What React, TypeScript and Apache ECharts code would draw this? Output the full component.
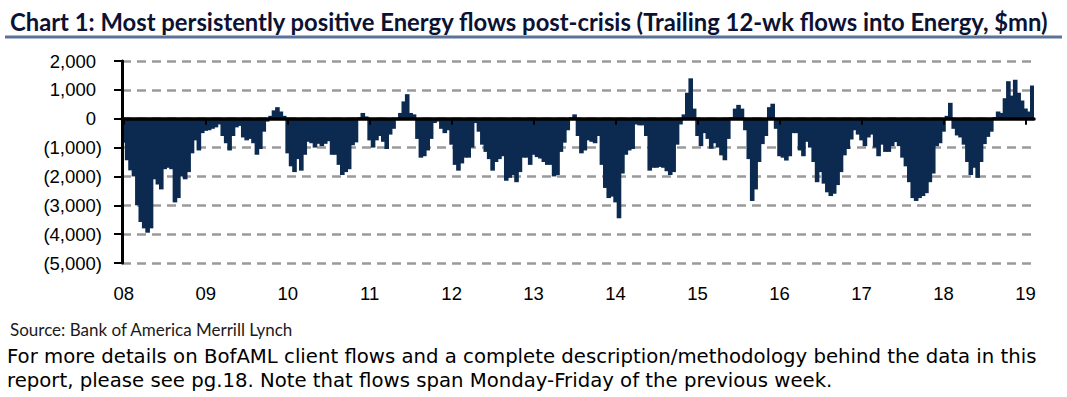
import React, { useEffect, useRef } from 'react';
import * as echarts from 'echarts';

// Trailing 12-wk flows into Energy ($mn), read twice a month, 2008 to early 2019
const yearLabels = ['08', '09', '10', '11', '12', '13', '14', '15', '16', '17', '18', '19'];

const flows2008 = [-830, -1440, -1790, -2000, -3000, -3580, -3800, -3950, -3800, -2100, -2280, -2450, -1750, -1700, -1750, -2900, -2750, -2000, -2100, -1850, -1200, -750, -1100, -500];
const flows2009 = [-420, -400, -350, -300, -200, -600, -850, -1100, -600, -300, -250, -650, -750, -700, -850, -1250, -1050, -450, -100, 100, 290, 400, 250, 100];
const flows2010 = [-1200, -1650, -1850, -1400, -1800, -1250, -800, -850, -1000, -870, -950, -870, -780, -1250, -1250, -1600, -1950, -1850, -1750, -920, -820, 50, 200, 80];
const flows2011 = [-750, -1000, -750, -600, -800, -1050, -550, -350, -50, 200, 600, 850, 200, 150, -700, -1350, -1300, -1100, -700, -150, -100, -350, -500, -400];
const flows2012 = [-900, -1600, -1800, -1550, -1350, -1350, -1000, -150, -450, -900, -1150, -1400, -1800, -1500, -1400, -1300, -2150, -2050, -1950, -2200, -1850, -1350, -1350, -1600];
const flows2013 = [-1250, -1330, -1380, -1500, -1600, -1600, -2000, -1950, -1150, -830, -400, 50, 150, -600, -1200, -1100, -750, -800, -850, -600, -1600, -2400, -2750, -2700];
const flows2014 = [-2900, -3450, -1900, -1250, -1100, -1050, -200, -230, -230, -600, -1800, -1700, -1700, -1670, -1700, -1820, -1950, -1850, -900, -200, 150, 900, 1400, 350];
const flows2015 = [-600, -950, -500, -700, -1040, -850, -1000, -1270, -1440, -700, 50, 350, 480, 350, -400, -1400, -2850, -2450, -1500, -880, -600, 400, 520, -350];
const flows2016 = [-1300, -1350, -1450, -1300, -500, -500, -1100, -1300, -800, -1000, -1500, -2200, -1850, -2250, -2550, -2680, -2600, -2300, -1850, -1270, -1050, -720, -400, -550];
const flows2017 = [-750, -950, -650, -550, -1000, -1300, -900, -1150, -1150, -950, -810, -950, -1350, -1650, -2200, -2750, -2850, -2750, -2680, -2580, -2200, -1900, -950, -850];
const flows2018 = [-450, 100, 550, -350, -580, -650, -900, -1500, -1950, -1700, -2050, -1500, -880, -630, -450, 50, 250, 200, 710, 1300, 800, 1350, 900, 630];
const flows2019 = [350, 250, 1150];

const flowsByYear = [flows2008, flows2009, flows2010, flows2011, flows2012, flows2013, flows2014, flows2015, flows2016, flows2017, flows2018, flows2019];

const yMin = -5000;
const yMax = 2000;
const yStep = 1000;

const TITLE = 'Chart 1: Most persistently positive Energy flows post-crisis (Trailing 12-wk flows into Energy, $mn)';
const SOURCE = 'Source: Bank of America Merrill Lynch';
const NOTE1 = 'For more details on BofAML client flows and a complete description/methodology behind the data in this';
const NOTE2 = 'report, please see pg.18. Note that flows span Monday-Friday of the previous week.';

const categories: string[] = [];
const values: number[] = [];
flowsByYear.forEach((arr, yi) => {
  arr.forEach((v, i) => {
    categories.push(`${yearLabels[yi]}-${i + 1}`);
    values.push(v);
  });
});

const AXIS_FONT = "'Liberation Sans', Arial, sans-serif";
const NOTE_FONT = "'DejaVu Sans', sans-serif";
const BAR_COLOR = '#0c2a50';
const fmtNum = (v: number) => Math.abs(v).toLocaleString('en-US');

export default function App() {
  const ref = useRef<HTMLDivElement>(null);
  useEffect(() => {
    if (!ref.current) return;
    const chart = echarts.init(ref.current, undefined, { renderer: 'svg' });
    const yearTick = (i: number) => i % 24 === 0;
    chart.setOption({
      animation: false,
      backgroundColor: '#ffffff',
      grid: { left: 122, right: 33, top: 61, bottom: 134, containLabel: false },
      xAxis: [
        {
          type: 'category',
          data: categories,
          position: 'bottom',
          axisLine: { show: false, onZero: false },
          axisTick: { show: false },
          splitLine: { show: false },
          axisLabel: {
            interval: yearTick,
            formatter: (v: string) => v.split('-')[0],
            margin: 21,
            fontSize: 18.5,
            fontFamily: AXIS_FONT,
            color: '#000',
          },
        },
        {
          type: 'category',
          data: categories,
          position: 'bottom',
          z: 6,
          axisLine: { show: true, onZero: true, lineStyle: { color: '#000', width: 3.5 } },
          axisTick: { show: true, alignWithLabel: true, interval: yearTick, length: 6, lineStyle: { color: '#000', width: 2 } },
          axisLabel: { show: false },
          splitLine: { show: false },
        },
      ],
      yAxis: [
        {
          type: 'value',
          min: yMin,
          max: yMax,
          interval: yStep,
          axisLine: { show: false },
          axisTick: { show: false },
          splitLine: { show: true, lineStyle: { color: '#9a9a9a', width: 2.5, type: [9, 6] } },
          axisLabel: {
            margin: 20,
            fontSize: 18.5,
            fontFamily: AXIS_FONT,
            color: '#000',
            formatter: (v: number) => (v < 0 ? `(${fmtNum(v)})` : `{pos|${fmtNum(v)}}`),
            rich: {
              pos: { fontSize: 18.5, fontFamily: AXIS_FONT, color: '#000', padding: [0, 6, 0, 0] },
            },
          },
        },
        {
          type: 'value',
          min: yMin,
          max: yMax,
          interval: yStep,
          position: 'left',
          z: 6,
          axisLine: { show: true, onZero: false, lineStyle: { color: '#000', width: 3 } },
          axisTick: { show: true, length: 8, lineStyle: { color: '#000', width: 2 } },
          axisLabel: { show: false },
          splitLine: { show: false },
        },
      ],
      series: [
        {
          type: 'bar',
          xAxisIndex: 0,
          yAxisIndex: 0,
          data: values,
          barWidth: '135%',
          itemStyle: { color: BAR_COLOR },
        },
      ],
      graphic: [
        {
          type: 'text',
          x: 10,
          y: 22,
          style: {
            text: TITLE,
            fill: '#0b1233',
            fontSize: 23.8,
            fontWeight: 'bold',
            fontFamily: 'Lato, sans-serif',
            verticalAlign: 'middle',
          },
        },
        {
          type: 'line',
          shape: { x1: 5, y1: 37, x2: 1062, y2: 37 },
          style: { stroke: '#5b7399', lineWidth: 3 },
        },
        {
          type: 'text',
          x: 10,
          y: 329,
          style: { text: SOURCE, fill: '#1a1a1a', fontSize: 17, fontFamily: 'Lato, sans-serif', verticalAlign: 'middle' },
        },
        {
          type: 'text',
          x: 7,
          y: 356.5,
          style: { text: NOTE1, fill: '#000', fontSize: 19.7, fontFamily: NOTE_FONT, verticalAlign: 'middle' },
        },
        {
          type: 'text',
          x: 7,
          y: 380.5,
          style: { text: NOTE2, fill: '#000', fontSize: 19.7, fontFamily: NOTE_FONT, verticalAlign: 'middle' },
        },
      ],
    });
    return () => chart.dispose();
  }, []);
  return (
    <div
      ref={ref}
      style={{ position: 'absolute', left: 0, top: 0, width: 1067, height: 397, background: '#fff' }}
    />
  );
}
